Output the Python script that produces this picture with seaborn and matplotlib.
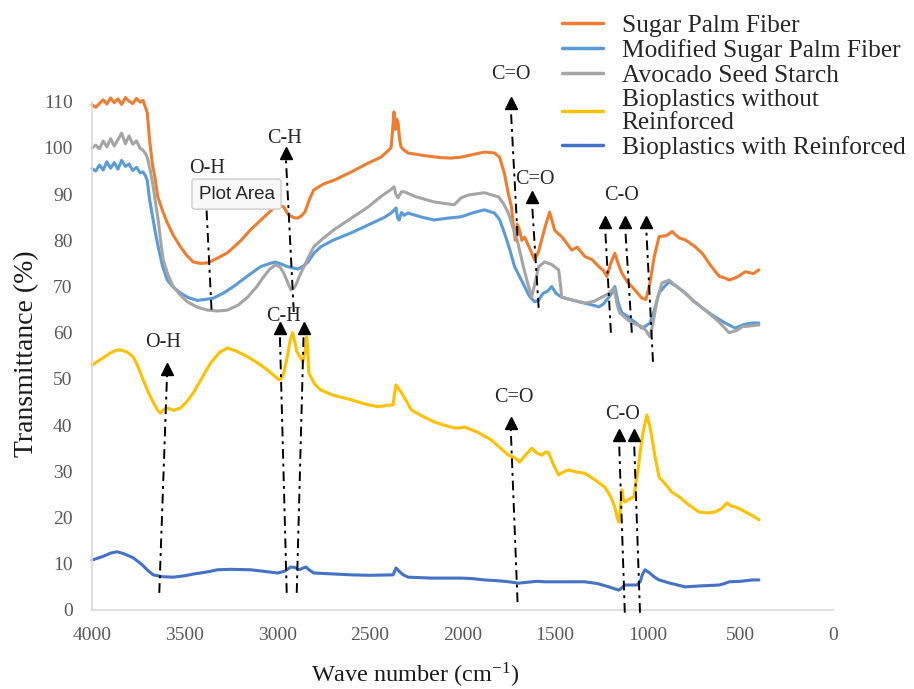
import pandas as pd
import seaborn as sns
import matplotlib.pyplot as plt

# FTIR spectra, values (wave number, transmittance %)
sugar_palm_fiber = [
    (4000, 109.3), (3980, 108.8), (3960, 109.6), (3940, 110.4), (3920, 109.5), (3900, 110.8),
    (3880, 109.8), (3860, 110.6), (3840, 109.4), (3820, 110.9), (3800, 110.1), (3780, 109.6),
    (3760, 110.7), (3740, 109.9), (3725, 110.3), (3712, 108.8), (3702, 107.6), (3690, 102.0),
    (3675, 96.7), (3660, 93.5), (3645, 89.4), (3620, 86.5), (3594, 83.8), (3560, 81.0),
    (3523, 78.6), (3490, 76.8), (3453, 75.3), (3415, 75.0), (3377, 75.1), (3330, 76.0),
    (3269, 77.3), (3200, 79.8), (3144, 82.3), (3080, 84.7), (3019, 87.0), (2985, 87.5),
    (2965, 87.2), (2950, 86.2), (2938, 85.5), (2910, 84.9), (2889, 84.8), (2870, 85.3),
    (2850, 86.2), (2825, 89.0), (2803, 90.9), (2750, 92.2), (2694, 93.0), (2600, 94.8),
    (2510, 96.7), (2440, 98.0), (2386, 100.0), (2378, 103.5), (2370, 107.8), (2362, 104.0),
    (2355, 106.2), (2348, 105.4), (2340, 102.0), (2332, 100.2), (2315, 99.5), (2294, 98.9),
    (2200, 98.3), (2120, 97.9), (2061, 97.8), (2007, 98.0), (1940, 98.6), (1882, 99.1),
    (1828, 98.9), (1800, 98.0), (1774, 94.5), (1755, 90.5), (1736, 87.3), (1725, 83.0),
    (1715, 80.0), (1705, 83.5), (1692, 82.2), (1680, 80.0), (1665, 80.7), (1640, 78.5),
    (1611, 75.8), (1590, 77.5), (1573, 80.1), (1550, 83.5), (1530, 86.1), (1515, 84.0),
    (1503, 82.2), (1485, 81.5), (1465, 80.8), (1440, 79.5), (1411, 77.9), (1380, 78.5),
    (1340, 76.5), (1300, 75.8), (1264, 74.3), (1240, 73.5), (1221, 72.2), (1200, 75.0),
    (1178, 77.2), (1160, 75.0), (1140, 72.9), (1110, 71.0), (1086, 70.0), (1060, 68.8),
    (1032, 67.5), (1010, 67.2), (988, 70.8), (965, 76.5), (939, 80.8), (900, 81.0),
    (869, 81.9), (830, 80.5), (798, 80.1), (750, 78.8), (706, 77.2), (660, 74.5),
    (614, 72.2), (580, 71.8), (560, 71.4), (520, 72.0), (473, 73.2), (430, 72.8), (400, 73.6),
]

modified_spf = [
    (4000, 95.5), (3980, 95.0), (3960, 96.3), (3940, 95.2), (3920, 97.0), (3900, 95.6),
    (3880, 96.8), (3860, 95.4), (3840, 97.3), (3820, 96.0), (3800, 96.5), (3780, 95.1),
    (3760, 95.8), (3740, 94.6), (3725, 94.8), (3712, 94.0), (3702, 93.0), (3690, 89.0),
    (3670, 84.4), (3655, 81.0), (3643, 78.6), (3620, 74.5), (3594, 71.4), (3560, 69.8),
    (3523, 68.6), (3480, 67.6), (3431, 67.0), (3390, 67.2), (3344, 67.5), (3290, 68.6),
    (3236, 70.0), (3160, 72.3), (3090, 74.3), (3040, 75.0), (3009, 75.3), (2975, 74.8),
    (2944, 74.3), (2915, 74.0), (2889, 73.8), (2860, 74.4), (2835, 75.3), (2800, 77.3),
    (2765, 78.6), (2700, 80.0), (2602, 81.6), (2500, 83.5), (2420, 85.0), (2386, 85.9),
    (2370, 86.5), (2359, 87.0), (2350, 84.8), (2342, 84.4), (2330, 86.0), (2315, 85.4),
    (2294, 85.9), (2220, 85.0), (2153, 84.4), (2080, 84.8), (2007, 85.1), (1940, 86.0),
    (1882, 86.6), (1828, 85.9), (1800, 84.5), (1774, 81.6), (1745, 78.0), (1719, 74.3),
    (1690, 72.0), (1665, 70.0), (1640, 68.0), (1611, 66.7), (1590, 67.0), (1575, 68.0),
    (1562, 68.6), (1540, 69.0), (1519, 70.0), (1495, 68.5), (1465, 67.7), (1400, 67.0),
    (1340, 66.4), (1300, 66.0), (1264, 65.6), (1240, 66.2), (1210, 67.7), (1190, 68.8),
    (1178, 70.0), (1160, 66.5), (1140, 64.3), (1110, 63.6), (1086, 62.8), (1060, 62.0),
    (1032, 61.0), (1010, 61.5), (988, 62.1), (965, 64.8), (939, 68.6), (910, 70.0),
    (885, 71.0), (850, 70.2), (798, 68.6), (750, 66.8), (690, 64.9), (640, 63.5),
    (582, 62.1), (528, 61.0), (480, 61.8), (436, 62.1), (400, 62.1),
]

avocado_starch = [
    (4000, 100.0), (3980, 100.6), (3960, 99.8), (3940, 101.5), (3920, 100.2), (3900, 102.0),
    (3880, 100.4), (3860, 101.8), (3840, 103.2), (3820, 100.9), (3800, 102.6), (3780, 100.8),
    (3760, 101.5), (3740, 99.9), (3725, 99.5), (3712, 98.8), (3702, 98.0), (3685, 95.0),
    (3670, 91.6), (3655, 87.5), (3643, 84.4), (3630, 80.0), (3616, 75.8), (3590, 72.5),
    (3562, 70.0), (3520, 68.0), (3486, 66.7), (3430, 65.5), (3377, 64.9), (3320, 64.7),
    (3269, 64.9), (3210, 66.0), (3160, 67.7), (3110, 70.0), (3074, 72.1), (3040, 73.8),
    (3009, 74.7), (2985, 74.2), (2965, 72.9), (2945, 71.0), (2927, 69.3), (2912, 69.6),
    (2900, 70.3), (2880, 72.3), (2856, 74.3), (2830, 76.5), (2803, 78.6), (2750, 80.5),
    (2694, 82.3), (2600, 84.8), (2510, 87.2), (2440, 89.5), (2386, 91.0), (2370, 91.6),
    (2360, 90.0), (2348, 89.2), (2330, 90.5), (2315, 90.5), (2250, 89.4), (2153, 88.3),
    (2045, 87.7), (2007, 89.2), (1969, 89.8), (1882, 90.3), (1806, 89.4), (1780, 88.0),
    (1752, 85.9), (1730, 83.0), (1709, 80.7), (1690, 77.5), (1671, 74.2), (1650, 71.0),
    (1627, 67.7), (1610, 70.5), (1589, 74.3), (1557, 75.3), (1520, 74.8), (1481, 73.6),
    (1470, 70.0), (1465, 67.7), (1400, 67.0), (1340, 66.4), (1290, 66.8), (1248, 67.7),
    (1210, 68.5), (1183, 69.7), (1165, 66.0), (1151, 64.3), (1120, 63.2), (1086, 62.1),
    (1060, 61.8), (1032, 61.3), (1010, 60.5), (988, 59.1), (970, 62.5), (950, 67.1),
    (923, 70.8), (885, 71.4), (850, 70.2), (798, 68.6), (750, 66.7), (690, 64.9),
    (620, 62.5), (560, 60.0), (520, 60.5), (490, 61.3), (440, 61.5), (400, 61.7),
]

bio_without = [
    (4000, 53.0), (3950, 54.3), (3902, 55.6), (3870, 56.2), (3848, 56.3), (3810, 55.8),
    (3778, 54.8), (3750, 52.5), (3724, 49.8), (3695, 47.0), (3670, 45.0), (3650, 43.5),
    (3632, 42.6), (3610, 43.5), (3594, 43.7), (3560, 43.2), (3523, 43.7), (3490, 45.0),
    (3453, 47.0), (3410, 50.0), (3361, 53.4), (3310, 55.8), (3269, 56.7), (3220, 56.0),
    (3160, 54.8), (3100, 53.3), (3052, 51.9), (3020, 50.8), (2992, 49.8), (2975, 50.2),
    (2965, 51.3), (2945, 55.0), (2930, 58.5), (2917, 60.0), (2905, 58.0), (2895, 56.0),
    (2884, 55.2), (2862, 53.7), (2850, 56.0), (2841, 59.1), (2835, 56.0), (2830, 51.3),
    (2800, 49.0), (2765, 47.6), (2700, 46.5), (2602, 45.5), (2520, 44.5), (2456, 44.0),
    (2400, 44.3), (2375, 44.4), (2368, 46.5), (2359, 48.7), (2345, 47.8), (2332, 47.2),
    (2300, 45.0), (2277, 43.3), (2220, 42.0), (2153, 40.7), (2100, 40.0), (2045, 39.4),
    (2007, 39.4), (1990, 39.6), (1920, 38.5), (1844, 36.8), (1800, 35.2), (1752, 33.5),
    (1720, 33.0), (1692, 32.0), (1660, 33.5), (1627, 35.0), (1600, 34.0), (1573, 33.5),
    (1550, 34.2), (1535, 34.0), (1510, 31.5), (1481, 29.2), (1450, 30.0), (1427, 30.3),
    (1380, 29.8), (1340, 29.6), (1290, 28.3), (1232, 26.6), (1200, 24.5), (1178, 22.3),
    (1165, 20.0), (1156, 19.0), (1148, 22.0), (1140, 26.0), (1132, 24.0), (1124, 23.4),
    (1100, 24.0), (1075, 24.5), (1064, 27.5), (1050, 31.0), (1042, 34.0), (1025, 38.5),
    (1005, 42.2), (990, 40.0), (978, 37.4), (960, 33.0), (939, 28.8), (900, 27.0),
    (870, 25.5), (831, 24.5), (780, 22.8), (723, 21.2), (680, 21.0), (636, 21.2),
    (600, 22.0), (571, 23.2), (550, 22.5), (528, 22.3), (500, 21.8), (473, 21.2),
    (430, 20.3), (400, 19.5),
]

bio_with = [
    (4000, 10.8), (3940, 11.6), (3900, 12.3), (3865, 12.6), (3830, 12.2), (3778, 11.3),
    (3730, 9.8), (3700, 8.6), (3670, 7.6), (3620, 7.2), (3562, 7.1), (3500, 7.4),
    (3450, 7.8), (3415, 8.0), (3370, 8.3), (3323, 8.7), (3250, 8.8), (3144, 8.7),
    (3060, 8.3), (2998, 8.0), (2960, 8.4), (2927, 9.3), (2905, 9.2), (2884, 8.7),
    (2865, 9.0), (2846, 9.3), (2825, 8.6), (2803, 8.0), (2700, 7.8), (2602, 7.6),
    (2500, 7.5), (2375, 7.6), (2365, 8.5), (2359, 9.1), (2340, 8.3), (2320, 7.6),
    (2294, 7.1), (2230, 7.0), (2169, 6.9), (2090, 6.9), (2007, 6.9), (1950, 6.8),
    (1882, 6.5), (1800, 6.3), (1750, 6.1), (1698, 5.8), (1650, 6.0), (1600, 6.2),
    (1557, 6.1), (1450, 6.1), (1340, 6.1), (1270, 5.7), (1210, 5.0), (1180, 4.6),
    (1156, 4.3), (1140, 4.8), (1124, 5.4), (1090, 5.4), (1059, 5.4), (1040, 6.2),
    (1030, 7.6), (1015, 8.7), (990, 8.0), (960, 7.0), (939, 6.5), (880, 5.8),
    (798, 5.0), (720, 5.2), (614, 5.4), (580, 5.8), (560, 6.1), (500, 6.2),
    (436, 6.5), (400, 6.5),
]

series_names = [
    "Sugar Palm Fiber",
    "Modified Sugar Palm Fiber",
    "Avocado Seed Starch",
    "Bioplastics without\nReinforced",
    "Bioplastics with Reinforced",
]
series_data = [sugar_palm_fiber, modified_spf, avocado_starch, bio_without, bio_with]
series_colors = ["#ED7D31", "#5B9BD5", "#A5A5A5", "#FFC000", "#4472C4"]

# band assignments: (x bottom, y bottom, x tip, y tip)
band_lines = [
    (3355, 65, 3388, 91.5), (2911, 64.5, 2955, 98.9), (1703, 81, 1741, 109.7),
    (1589, 65.4, 1627, 89.4), (1199, 60, 1232, 84), (1086, 60, 1124, 84),
    (972, 53.7, 1010, 84), (3637, 3.7, 3594, 52.2), (2949, 3.7, 2987, 61),
    (2895, 3.7, 2857, 61), (1703, 1.7, 1741, 40.5), (1124, -0.6, 1156, 37.9),
    (1042, -0.6, 1075, 37.9),
]
band_labels = [
    ("O-H", 3377, 95.5), ("C-H", 2960, 102), ("C=O", 1741, 115.8), ("C=O", 1611, 93.1),
    ("C-O", 1140, 89.6), ("O-H", 3615, 57.8), ("C-H", 2965, 63.6), ("C=O", 1725, 45.9),
    ("C-O", 1135, 42.4),
]

rows = []
for name, pts in zip(series_names, series_data):
    for wn, tr in pts:
        rows.append({"Wave number": wn, "Transmittance": tr, "Sample": name})
df = pd.DataFrame(rows)

sns.set_style("white")
plt.rcParams["font.family"] = ["Liberation Serif", "DejaVu Serif"]
plt.rcParams["mathtext.fontset"] = "stix"

fig = plt.figure(figsize=(9.14, 6.89), dpi=100)
ax = fig.add_axes([0.1007, 0.1147, 0.8107, 0.7377])

sns.lineplot(
    data=df, x="Wave number", y="Transmittance", hue="Sample",
    hue_order=series_names, palette=series_colors, estimator=None,
    sort=False, lw=2.2, ax=ax,
)
for line in ax.get_lines():
    line.set_clip_on(False)

ax.set_xlim(4000, 0)
ax.set_ylim(0, 110)
ax.set_xticks(range(4000, -1, -500))
ax.set_yticks(range(0, 111, 10))
ax.tick_params(axis="both", length=0, labelsize=14, labelcolor="#595959")
ax.tick_params(axis="x", pad=12)
ax.tick_params(axis="y", pad=14)
sns.despine(ax=ax)
for side in ["left", "bottom"]:
    ax.spines[side].set_color("#d9d9d9")
    ax.spines[side].set_linewidth(1.2)

ax.set_xlabel("Wave number (cm$^{\\mathregular{-1}}$)", fontsize=17.5, color="#1a1a1a")
ax.set_ylabel("Transmittance (%)", fontsize=20, color="#1a1a1a")
ax.xaxis.set_label_coords(0.437, -0.10)
ax.yaxis.set_label_coords(-0.072, 0.504)

dashdot = (0, (5, 2.5, 1.5, 2.5))
for xb, yb, xt, yt in band_lines:
    ax.plot([xb, xt], [yb, yt], color="black", lw=1.4, ls=dashdot, clip_on=False, zorder=5)
    ax.plot([xt], [yt], marker="^", ms=8, color="black", clip_on=False, zorder=6)
for txt, x, y in band_labels:
    ax.text(x, y, txt, fontsize=14.5, ha="center", va="center", clip_on=False, zorder=7)

ax.text(3220, 90, "Plot Area", fontsize=13.5, family="Liberation Sans", ha="center",
        va="center", zorder=10,
        bbox=dict(boxstyle="round,pad=0.35,rounding_size=0.15", fc="#f8f8f8",
                  ec="#cccccc", lw=1))

handles, labels = ax.get_legend_handles_labels()
ax.get_legend().remove()
leg = fig.legend(
    handles, labels, loc="upper left", bbox_to_anchor=(562 / 914, 1 - 14 / 689),
    frameon=False, fontsize=18.3, handlelength=1.6, handletextpad=0.75,
    labelspacing=0.08, borderpad=0, borderaxespad=0,
)
for t in leg.get_texts():
    t.set_linespacing(1.1)
for h in leg.get_lines():
    h.set_linewidth(2.5)

fig.savefig("out.png", dpi=100)
